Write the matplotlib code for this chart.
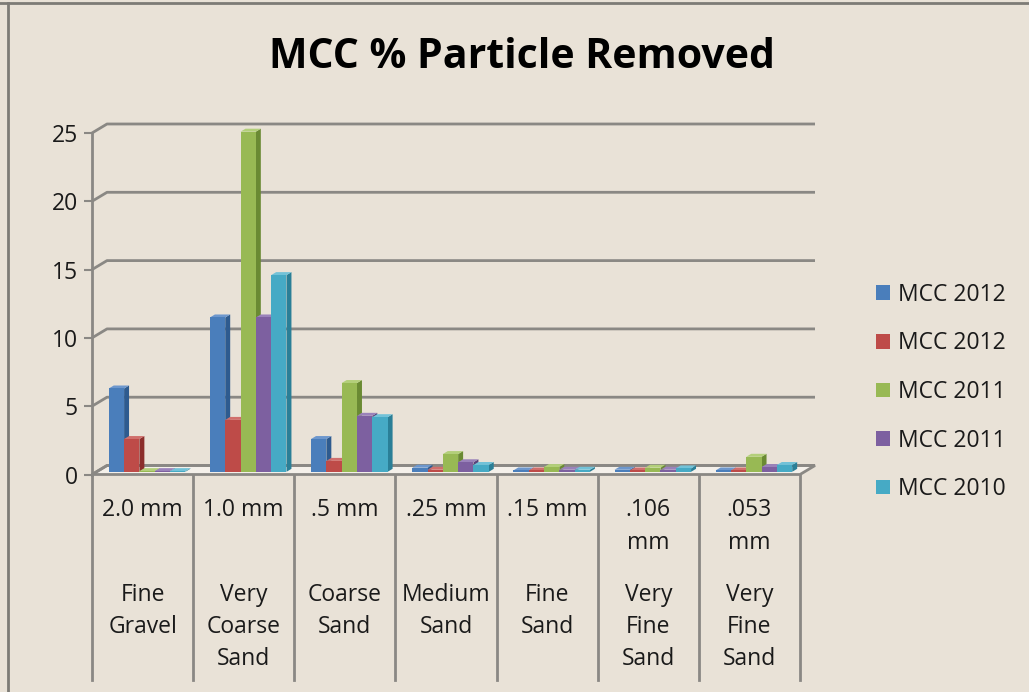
import matplotlib

matplotlib.use("Agg")
import matplotlib.pyplot as plt
from matplotlib.patches import Patch
from matplotlib.lines import Line2D

# ---- data -------------------------------------------------------------
size_labels = ["2.0 mm", "1.0 mm", ".5 mm", ".25 mm", ".15 mm", ".106\nmm", ".053\nmm"]
class_labels = ["Fine\nGravel", "Very\nCoarse\nSand", "Coarse\nSand", "Medium\nSand",
                "Fine\nSand", "Very\nFine\nSand", "Very\nFine\nSand"]
series_names = ["MCC 2012", "MCC 2012", "MCC 2011", "MCC 2011", "MCC 2010"]
mcc2012_a = [6.1, 11.3, 2.4, 0.3, 0.1, 0.15, 0.1]
mcc2012_b = [2.4, 3.8, 0.8, 0.15, 0.1, 0.1, 0.1]
mcc2011_a = [0.05, 24.9, 6.5, 1.3, 0.35, 0.3, 1.1]
mcc2011_b = [0.05, 11.3, 4.1, 0.7, 0.15, 0.15, 0.35]
mcc2010 = [0.05, 14.4, 4.0, 0.5, 0.15, 0.25, 0.5]
y_ticks = [0, 5, 10, 15, 20, 25]

series_values = [mcc2012_a, mcc2012_b, mcc2011_a, mcc2011_b, mcc2010]
front_colors = ["#4a7ebb", "#be4b48", "#98b954", "#7d60a0", "#46aac5"]
side_colors = ["#2e5b8f", "#8b2d2b", "#6a8a33", "#59437a", "#2a7f97"]
top_colors = ["#6d97cd", "#d06f6c", "#b3cf7a", "#9a82ba", "#72c2d8"]

BG = "#e9e2d7"
GRID = "#8a8884"
TXT = "#1a1a1a"
FONT = ["Liberation Sans Narrow", "Open Sans", "DejaVu Sans"]
FS = 16.5

W, H = 1029, 692
fig = plt.figure(figsize=(W / 100, H / 100), dpi=100, facecolor=BG)

# front plane of the plot: x 92..800 px, y(0)=474.5 px, y(25)=133 px
X0, X1, Y0, Y25 = 92, 800, 474.5, 133
ax = fig.add_axes([X0 / W, 1 - Y0 / H, (X1 - X0) / W, (Y0 - Y25) / H])
ax.set_xlim(0, len(size_labels))
ax.set_ylim(0, 25)
ax.set_facecolor("none")
for s in ax.spines.values():
    s.set_visible(False)

kx = len(size_labels) / (X1 - X0)  # data units per pixel
ky = 25 / (Y0 - Y25)


def px_y(py):
    return (Y0 - py) * ky


# depth of the 3D box and of the bars, in pixels
DX, DY = 15, 9
BF = 0.3   # bars start at this fraction of the depth
BB = 0.63  # and end here

# floor
fx = [0, len(size_labels), len(size_labels) + DX * kx, DX * kx]
fy = [0, 0, DY * ky, DY * ky]
ax.fill(fx, fy, facecolor="#f4f0ea", edgecolor=GRID, lw=2, clip_on=False, zorder=1)

# gridlines on side and back wall
for v in y_ticks:
    ax.plot([0, DX * kx, len(size_labels) + DX * kx], [v, v + DY * ky, v + DY * ky],
            color=GRID, lw=2, clip_on=False, zorder=1, solid_capstyle="butt")
ax.plot([0, 0], [0, 25], color=GRID, lw=2, clip_on=False, zorder=2)

# category separators below the axis
for i in range(len(size_labels) + 1):
    ax.plot([i, i], [0, px_y(680)], color=GRID, lw=2, clip_on=False, zorder=2)

# bars
n = len(series_values)
group = 0.757
bw = group / n
for c in range(len(size_labels)):
    for s in range(n):
        h = series_values[s][c]
        x = c + (1 - group) / 2 + s * bw + BF * DX * kx
        y = BF * DY * ky
        ddx = (BB - BF) * DX * kx
        ddy = (BB - BF) * DY * ky
        ax.fill([x + bw, x + bw + ddx, x + bw + ddx, x + bw],
                [y, y + ddy, y + h + ddy, y + h],
                color=side_colors[s], lw=0, clip_on=False, zorder=3)
        ax.fill([x, x + bw, x + bw + ddx, x + ddx],
                [y + h, y + h, y + h + ddy, y + h + ddy],
                color=top_colors[s], lw=0, clip_on=False, zorder=3)
        ax.fill([x, x + bw, x + bw, x], [y, y, y + h, y + h],
                color=front_colors[s], lw=0, clip_on=False, zorder=3)

# y axis ticks
ax.set_xticks([])
ax.set_yticks(y_ticks)
ax.tick_params(axis="y", length=6, width=1.5, color=GRID, pad=4,
               labelsize=FS, labelcolor=TXT)
for lab in ax.get_yticklabels():
    lab.set_family(FONT)

# two-level category labels
for c in range(len(size_labels)):
    for r, line in enumerate(size_labels[c].split("\n")):
        ax.text(c + 0.5, px_y(510 + r * 33), line, ha="center", va="center",
                fontsize=FS, family=FONT, color=TXT, clip_on=False)
    for r, line in enumerate(class_labels[c].split("\n")):
        ax.text(c + 0.5, px_y(595 + r * 32), line, ha="center", va="center",
                fontsize=FS, family=FONT, color=TXT, clip_on=False)

# title
fig.text(522 / W, 1 - 58 / H, "MCC % Particle Removed", ha="center", va="center",
         fontsize=29.5, fontweight="bold", family=FONT, color="#000000")

# legend
handles = [Patch(facecolor=front_colors[i], edgecolor="none") for i in range(n)]
fig.legend(handles, series_names, loc="center left",
           bbox_to_anchor=(855 / W, 1 - 392 / H), frameon=False,
           prop={"family": FONT, "size": FS}, handlelength=0.62, handleheight=0.62,
           handletextpad=0.35, labelspacing=1.07, labelcolor=TXT)

# frame edges of the chart area
fig.add_artist(Line2D([0, 1], [1 - 3 / H, 1 - 3 / H], color="#7d7b76", lw=2))
fig.add_artist(Line2D([8 / W, 8 / W], [0, 1 - 3 / H], color="#7d7b76", lw=2))

fig.savefig("out.png", dpi=100, facecolor=BG)
